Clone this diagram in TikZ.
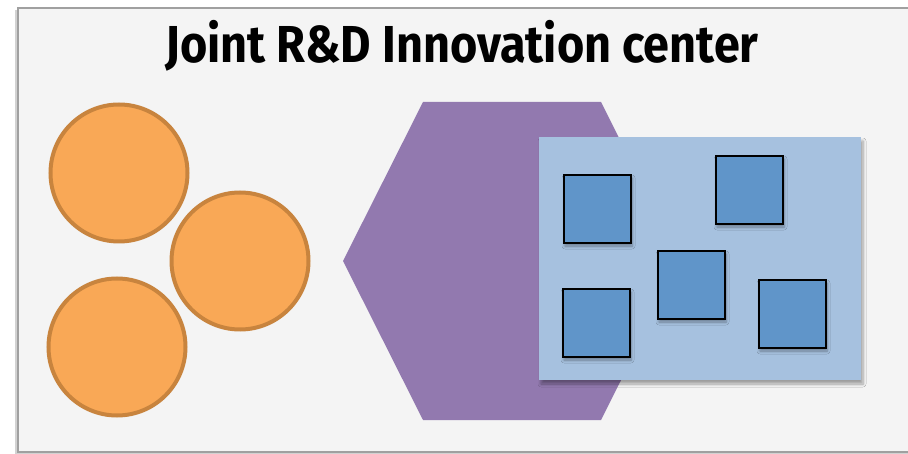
\documentclass[tikz,border=0pt]{standalone}
\usepackage{fontspec}
\setmainfont{Fira Sans}
\usetikzlibrary{shadows,shadows.blur}
\definecolor{bgc}{HTML}{F4F4F4}
\definecolor{framec}{HTML}{A0A0A0}
\definecolor{orfill}{HTML}{F9A856}
\definecolor{ordraw}{HTML}{C8843E}
\definecolor{purp}{HTML}{9279AF}
\definecolor{lblue}{HTML}{A6C1DF}
\definecolor{sqblue}{HTML}{6095C9}
\tikzset{
  orb/.style={circle, fill=orfill, draw=ordraw, line width=4pt, minimum size=137pt, inner sep=0pt},
  sqbox/.style={rectangle, fill=sqblue, draw=black, line width=2.2pt, minimum width=67pt, minimum height=68pt, inner sep=0pt,
     blur shadow={shadow xshift=1pt, shadow yshift=-3pt, shadow blur steps=6, shadow blur radius=3pt, shadow opacity=35}},
  panel/.style={rectangle, fill=lblue, minimum width=322pt, minimum height=243pt, inner sep=0pt,
     blur shadow={shadow xshift=2pt, shadow yshift=-4pt, shadow blur steps=6, shadow blur radius=3pt, shadow opacity=35}},
  titletext/.style={font=\bfseries\fontsize{52}{52}\selectfont, inner sep=0pt}
}
\begin{document}
\begin{tikzpicture}[x=1pt,y=-1pt]
\useasboundingbox (0,0) rectangle (908,454);
% frame
\fill[gray!35] (15,10) rectangle (930,455);
\draw[fill=bgc, draw=framec, line width=1.2pt] (18,8) rectangle (930,452);
% title
\node[titletext, anchor=base] (title) at (462,63) {\scalebox{0.9}[1]{Joint R\&D Innovation center}};
% circles
\node[orb] (c1) at (119,173) {};
\node[orb] (c2) at (240,261) {};
\node[orb] (c3) at (117,347) {};
% hexagon
\fill[purp] (343,261) -- (423,102) -- (601,102) -- (681,261) -- (601,420) -- (423,420) -- cycle;
\coordinate (hexc) at (512,261);
% panel
\node[panel] (pan) at (700,258.5) {};
% squares
\node[sqbox] (s1) at (597.5,209) {};
\node[sqbox] (s2) at (749.5,190) {};
\node[sqbox] (s3) at (691.5,285) {};
\node[sqbox] (s4) at (596.5,323) {};
\node[sqbox] (s5) at (792.5,314) {};
\end{tikzpicture}
\end{document}
